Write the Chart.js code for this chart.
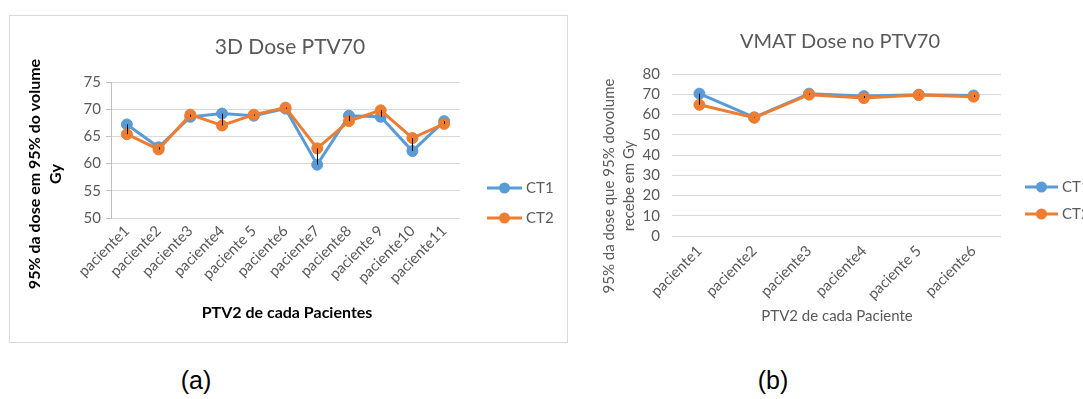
<!DOCTYPE html>
<html>
<head>
<meta charset="utf-8">
<script src="https://cdn.jsdelivr.net/npm/chart.js@4/dist/chart.umd.min.js"></script>
<style>
  html, body { margin: 0; padding: 0; background: #fff; width: 1083px; height: 399px; overflow: hidden; }
  #boxA { position: absolute; left: 9px; top: 15px; width: 559px; height: 328px; border: 1px solid #d9d9d9; box-sizing: border-box; }
  #boxA canvas { position: absolute; left: 0; top: 0; }
  #boxB { position: absolute; left: 580px; top: 0; width: 503px; height: 350px; }
  #boxB canvas { position: absolute; left: 0; top: 0; }
  .cap { position: absolute; top: 366px; width: 80px; text-align: center; font-family: "Liberation Sans", Arial, sans-serif; font-size: 25px; color: #000; }
</style>
</head>
<body>
<div id="boxA"><canvas id="chartA" width="557" height="326"></canvas></div>
<div id="boxB"><canvas id="chartB" width="503" height="350"></canvas></div>
<div class="cap" style="left:156px">(a)</div>
<div class="cap" style="left:733px">(b)</div>

<script>
// ---- 3D plan: dose to 95% of PTV70 (Gy) ----
const patients3D = ['paciente1', 'paciente2', 'paciente3', 'paciente4', 'paciente 5', 'paciente6',
                    'paciente7', 'paciente8', 'paciente 9', 'paciente10', 'paciente11'];
const ct1_3D = [67.2, 63.0, 68.6, 69.2, 68.8, 70.1, 59.8, 68.8, 68.6, 62.3, 67.8];
const ct2_3D = [65.4, 62.6, 69.0, 67.0, 69.0, 70.3, 62.8, 67.8, 69.8, 64.7, 67.3];
const yTicks3D = [50, 55, 60, 65, 70, 75];

// ---- VMAT plan: dose to 95% of PTV70 (Gy) ----
const patientsVMAT = ['paciente1', 'paciente2', 'paciente3', 'paciente4', 'paciente 5', 'paciente6'];
const ct1_VMAT = [70.3, 58.6, 70.3, 69.1, 69.8, 69.4];
const ct2_VMAT = [64.8, 58.4, 69.8, 68.1, 69.6, 68.8];
const yTicksVMAT = [0, 10, 20, 30, 40, 50, 60, 70, 80];

const seriesNames = ['CT1', 'CT2'];
const BLUE = '#5b9bd5';
const ORANGE = '#ed7d31';
const GREY_TEXT = '#595959';
const FONT = 'Lato, "Open Sans", sans-serif';

// Thin black line joining CT1 and CT2 at each patient (high-low line)
const highLowPlugin = {
  id: 'highLow',
  afterDatasetsDraw(chart) {
    const a = chart.getDatasetMeta(0).data;
    const b = chart.getDatasetMeta(1).data;
    const ctx = chart.ctx;
    ctx.save();
    ctx.strokeStyle = '#000';
    ctx.lineWidth = 1;
    for (let i = 0; i < a.length; i++) {
      const x = Math.round(a[i].x) + 0.5;
      ctx.beginPath();
      ctx.moveTo(x, a[i].y);
      ctx.lineTo(x, b[i].y);
      ctx.stroke();
    }
    ctx.restore();
  }
};

// Chart title, axis titles and the line+marker legend
const textPlugin = {
  id: 'chartText',
  afterDraw(chart, args, o) {
    const ctx = chart.ctx;
    ctx.save();
    ctx.textBaseline = 'middle';
    ctx.textAlign = 'center';

    ctx.font = o.title.font;
    ctx.fillStyle = o.title.color;
    ctx.fillText(o.title.text, o.title.x, o.title.y);

    ctx.font = o.xTitle.font;
    ctx.fillStyle = o.xTitle.color;
    ctx.fillText(o.xTitle.text, o.xTitle.x, o.xTitle.y);

    ctx.save();
    ctx.translate(o.yTitle.x, o.yTitle.y);
    ctx.rotate(-Math.PI / 2);
    ctx.font = o.yTitle.font;
    ctx.fillStyle = o.yTitle.color;
    o.yTitle.lines.forEach((line, i) => ctx.fillText(line, 0, i * o.yTitle.lineHeight));
    ctx.restore();

    const lg = o.legend;
    chart.data.datasets.forEach((ds, i) => {
      const y = lg.y[i];
      ctx.strokeStyle = ds.borderColor;
      ctx.lineWidth = 3;
      ctx.beginPath();
      ctx.moveTo(lg.x, y);
      ctx.lineTo(lg.x + lg.len, y);
      ctx.stroke();
      ctx.fillStyle = ds.borderColor;
      ctx.beginPath();
      ctx.arc(lg.x + lg.len / 2, y, 5.5, 0, Math.PI * 2);
      ctx.fill();
      ctx.fillStyle = GREY_TEXT;
      ctx.font = lg.font;
      ctx.textAlign = 'left';
      ctx.fillText(ds.label, lg.x + lg.len + 4, y);
    });
    ctx.restore();
  }
};

function lineSet(label, data, color, order) {
  return {
    label, data, order,
    borderColor: color, backgroundColor: color,
    borderWidth: 3, pointRadius: 5.5, pointHoverRadius: 5.5,
    pointBorderWidth: 1, pointBackgroundColor: color, pointBorderColor: color,
    tension: 0
  };
}

function makeChart(id, spec) {
  const canvas = document.getElementById(id);
  const W = canvas.width, H = canvas.height;
  const yTicks = spec.yTicks;
  return new Chart(canvas, {
    type: 'line',
    data: {
      labels: spec.labels,
      datasets: [
        lineSet(seriesNames[0], spec.ct1, BLUE, 1),
        lineSet(seriesNames[1], spec.ct2, ORANGE, 0)
      ]
    },
    options: {
      responsive: false,
      animation: false,
      events: [],
      layout: { padding: { left: 0, top: spec.area.top, right: W - spec.area.right, bottom: 0 } },
      plugins: {
        legend: { display: false },
        title: { display: false },
        tooltip: { enabled: false },
        chartText: spec.text
      },
      scales: {
        x: {
          offset: true,
          grid: { display: false, drawTicks: false },
          border: { display: false },
          ticks: {
            color: GREY_TEXT, font: { family: FONT, size: 15 },
            minRotation: 45, maxRotation: 45, autoSkip: false, padding: spec.xPad
          },
          afterFit(s) {
            s.height = H - spec.area.bottom;
            s.paddingLeft = 0; s.paddingRight = 0;
          }
        },
        y: {
          min: yTicks[0], max: yTicks[yTicks.length - 1],
          grid: {
            color: '#d9d9d9', lineWidth: 1,
            drawTicks: spec.yTickMarks, tickLength: 5, tickColor: '#bfbfbf'
          },
          border: { display: spec.yAxisLine, color: '#bfbfbf' },
          ticks: {
            stepSize: yTicks[1] - yTicks[0], autoSkip: false,
            color: GREY_TEXT, font: { family: FONT, size: 15 }, padding: spec.yPad
          },
          afterFit(s) {
            s.width = spec.area.left;
            s.paddingTop = 0; s.paddingBottom = 0;
          }
        }
      }
    },
    plugins: [highLowPlugin, textPlugin]
  });
}

makeChart('chartA', {
  labels: patients3D, ct1: ct1_3D, ct2: ct2_3D, yTicks: yTicks3D,
  area: { left: 101, right: 450, top: 66, bottom: 202 },
  yTickMarks: true, yAxisLine: true, yPad: 5, xPad: 4,
  text: {
    title: { text: '3D Dose PTV70', x: 280, y: 31, font: '21px ' + FONT, color: GREY_TEXT },
    xTitle: { text: 'PTV2 de cada Pacientes', x: 277, y: 297, font: 'bold 16px ' + FONT, color: '#000' },
    yTitle: { lines: ['95% da dose em 95% do volume', 'Gy'], x: 25, y: 158, lineHeight: 21,
              font: 'bold 16px ' + FONT, color: '#000' },
    legend: { x: 477, len: 35, y: [172, 202], font: '15px ' + FONT }
  }
});

makeChart('chartB', {
  labels: patientsVMAT, ct1: ct1_VMAT, ct2: ct2_VMAT, yTicks: yTicksVMAT,
  area: { left: 92, right: 421, top: 74, bottom: 236 },
  yTickMarks: false, yAxisLine: false, yPad: 12, xPad: 6,
  text: {
    title: { text: 'VMAT Dose no PTV70', x: 260, y: 42, font: '20px ' + FONT, color: GREY_TEXT },
    xTitle: { text: 'PTV2 de cada Paciente', x: 257, y: 316, font: '15px ' + FONT, color: GREY_TEXT },
    yTitle: { lines: ['95% da dose que 95% dovolume', 'recebe em Gy'], x: 29, y: 186, lineHeight: 20,
              font: '15px ' + FONT, color: GREY_TEXT },
    legend: { x: 445, len: 33, y: [187, 214], font: '15px ' + FONT }
  }
});
</script>
</body>
</html>
